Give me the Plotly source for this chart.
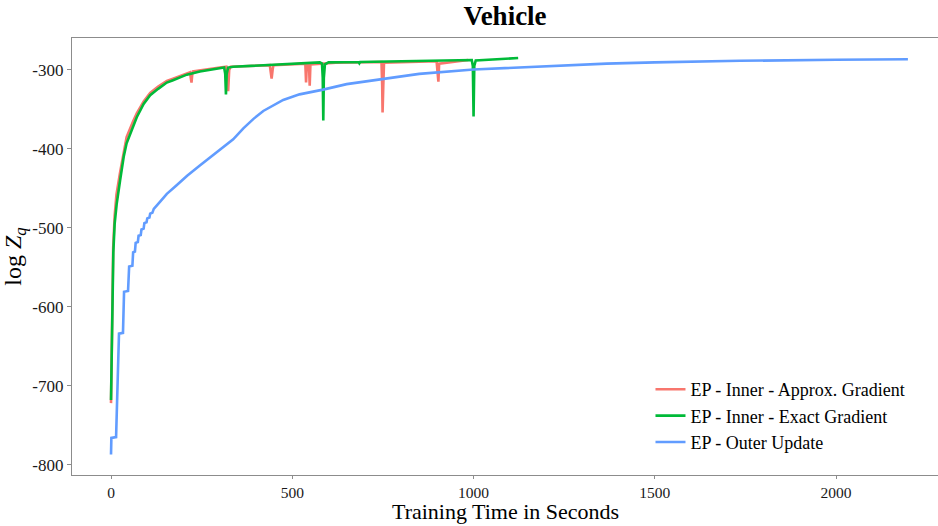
import plotly.graph_objects as go

# EP - Inner - Approx. Gradient (red)
approx_x = [0, 2, 4, 6, 10, 15, 25, 35, 43, 61, 71, 90, 108, 130, 154, 171, 209, 218, 220, 222, 224, 226,
            300, 318, 321, 323, 326, 330, 438, 440, 443, 446, 448, 536, 538, 540, 546, 548, 550, 620,
            746, 748, 749, 751, 753, 898, 901, 903, 905, 985]
approx_y = [-722, -640, -570, -525, -485, -458, -430, -402, -385, -365, -355, -340, -329, -321, -314, -311,
            -304, -303, -310, -316, -306, -302, -297, -296, -315, -327, -300, -296, -294, -300, -311, -299,
            -294, -292, -316, -294, -292, -320, -293, -291, -290, -320, -354, -320, -291, -289, -305, -315,
            -292, -287.5]

# EP - Inner - Exact Gradient (green)
exact_x = [0, 2, 4, 6.4, 10, 15.6, 25, 35, 43, 61, 71, 90, 108, 130, 154, 171, 209, 245, 301, 312, 315,
           317, 319, 323, 337, 450, 576, 582, 584, 585.5, 587, 590, 600, 683, 685, 687, 800, 995, 998,
           1000, 1002, 1006, 1123]
exact_y = [-718, -650, -580, -531, -495, -470, -440, -410, -393, -371, -360, -343, -332, -324, -316, -313,
           -306, -302, -298, -297, -305, -331, -305, -297, -296, -293, -290.5, -292, -310, -364, -310, -293,
           -290.5, -290, -291.5, -290, -289, -287.5, -295, -359, -295, -288, -285]

# EP - Outer Update (blue)
outer_x = [0, 1, 14, 17, 22, 33, 36, 47, 50, 59, 61, 66, 68, 74, 76, 82, 84, 90, 92, 98, 100, 106, 108,
           114, 118, 135, 154, 181, 210, 245, 275, 301, 337, 365, 393, 420, 450, 475, 520, 585, 650, 751,
           850, 1000, 1073, 1183, 1367, 1500, 1735, 2000, 2198]
outer_y = [-787, -766, -765, -700, -634, -633, -581, -580, -549, -548, -531, -530, -519, -518, -510, -509,
           -502, -501, -494, -493, -488, -487, -482, -481, -476, -467, -457, -446, -434, -421, -410, -400,
           -388, -374, -362, -352, -344, -338, -331, -325, -318, -311, -305, -299.5, -298, -295.5, -292,
           -290.5, -288.5, -287.2, -286.5]

x_ticks = [0, 500, 1000, 1500, 2000]
x_tick_labels = ["0", "500", "1000", "1500", "2000"]
y_ticks = [-800, -700, -600, -500, -400, -300]
y_tick_labels = ["-800", "-700", "-600", "-500", "-400", "-300"]

FONT = "Palatino Linotype, Book Antiqua, Palatino, Liberation Serif, serif"

fig = go.Figure()
fig.add_trace(go.Scatter(x=approx_x, y=approx_y, mode="lines", name="EP - Inner - Approx. Gradient",
                         line=dict(color="#F8766D", width=2.6)))
fig.add_trace(go.Scatter(x=exact_x, y=exact_y, mode="lines", name="EP - Inner - Exact Gradient",
                         line=dict(color="#00BA38", width=2.6)))
fig.add_trace(go.Scatter(x=outer_x, y=outer_y, mode="lines", name="EP - Outer Update",
                         line=dict(color="#619CFF", width=2.6)))

fig.update_layout(
    width=938, height=526,
    margin=dict(l=72, r=0, t=38, b=51),
    paper_bgcolor="white", plot_bgcolor="white",
    font=dict(family=FONT, color="#1a1a1a", size=17),
    title=dict(text="<b>Vehicle</b>", x=0.5385, xanchor="center", y=0.988, yanchor="top",
               font=dict(size=27, color="black", family=FONT)),
    showlegend=True,
    legend=dict(x=0.668, y=0.238, xanchor="left", yanchor="top", bgcolor="rgba(0,0,0,0)",
                font=dict(size=18, family=FONT, color="black"), tracegroupgap=0, itemwidth=30),
    xaxis=dict(range=[-107.6, 2281], tickvals=x_ticks, ticktext=x_tick_labels, ticks="outside", ticklen=3,
               tickcolor="#8c8c8c", showline=True, linecolor="#8c8c8c", linewidth=1.2, mirror=True,
               showgrid=False, zeroline=False, tickfont=dict(size=15.5, color="#1a1a1a")),
    yaxis=dict(range=[-813, -259.6], tickvals=y_ticks, ticktext=y_tick_labels, ticks="outside", ticklen=4,
               tickcolor="#8c8c8c", showline=True, linecolor="#8c8c8c", linewidth=1.2, showgrid=False,
               zeroline=False, tickfont=dict(size=17, color="#1a1a1a"),
               title=dict(text="log <i>Z<sub>q</sub></i>", font=dict(size=24, color="black"), standoff=6)),
    annotations=[dict(text="Training Time in Seconds", xref="paper", yref="paper", x=0.5, y=-0.1166,
                      xanchor="center", yanchor="bottom", showarrow=False,
                      font=dict(size=22, color="black", family=FONT))],
)

fig.write_html("out.html", config={"displayModeBar": False},
               post_script="document.body.style.margin='0';document.body.style.padding='0';")
